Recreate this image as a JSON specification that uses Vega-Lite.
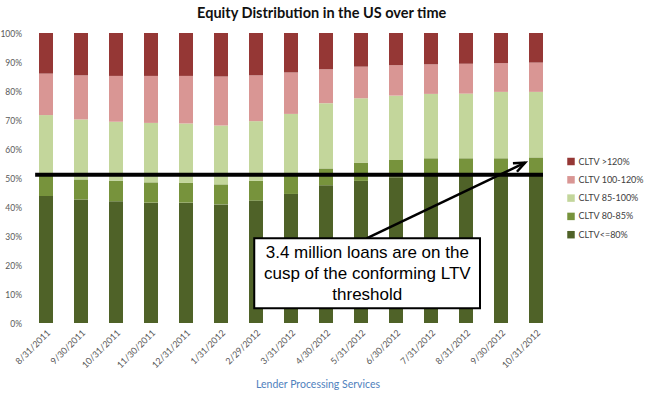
{
  "$schema": "https://vega.github.io/schema/vega-lite/v6.json",
  "width": 525,
  "height": 290,
  "autosize": "none",
  "padding": {"left": 28.5, "top": 33, "right": 96.5, "bottom": 70},
  "config": {"view": {"stroke": null}, "font": "Lato"},
  "title": {"text": "Equity Distribution in the US over time", "font": "Lato", "fontSize": 14.5, "fontWeight": "bold", "color": "#111111", "anchor": "middle", "frame": "group", "dx": 30.7, "baseline": "alphabetic", "offset": -3.5},
  "datasets": {
    "ltv": [
      {"date": "8/31/2011", "band": "CLTV<=80%", "lo": 0, "pct": 43.8},
      {"date": "8/31/2011", "band": "CLTV 80-85%", "lo": 80, "pct": 7.2},
      {"date": "8/31/2011", "band": "CLTV 85-100%", "lo": 85, "pct": 20.7},
      {"date": "8/31/2011", "band": "CLTV 100-120%", "lo": 100, "pct": 14.3},
      {"date": "8/31/2011", "band": "CLTV >120%", "lo": 120, "pct": 14.0},
      {"date": "9/30/2011", "band": "CLTV<=80%", "lo": 0, "pct": 42.6},
      {"date": "9/30/2011", "band": "CLTV 80-85%", "lo": 80, "pct": 6.9},
      {"date": "9/30/2011", "band": "CLTV 85-100%", "lo": 85, "pct": 20.7},
      {"date": "9/30/2011", "band": "CLTV 100-120%", "lo": 100, "pct": 15.2},
      {"date": "9/30/2011", "band": "CLTV >120%", "lo": 120, "pct": 14.6},
      {"date": "10/31/2011", "band": "CLTV<=80%", "lo": 0, "pct": 42.0},
      {"date": "10/31/2011", "band": "CLTV 80-85%", "lo": 80, "pct": 7.1},
      {"date": "10/31/2011", "band": "CLTV 85-100%", "lo": 85, "pct": 20.3},
      {"date": "10/31/2011", "band": "CLTV 100-120%", "lo": 100, "pct": 15.8},
      {"date": "10/31/2011", "band": "CLTV >120%", "lo": 120, "pct": 14.8},
      {"date": "11/30/2011", "band": "CLTV<=80%", "lo": 0, "pct": 41.5},
      {"date": "11/30/2011", "band": "CLTV 80-85%", "lo": 80, "pct": 7.0},
      {"date": "11/30/2011", "band": "CLTV 85-100%", "lo": 85, "pct": 20.5},
      {"date": "11/30/2011", "band": "CLTV 100-120%", "lo": 100, "pct": 16.2},
      {"date": "11/30/2011", "band": "CLTV >120%", "lo": 120, "pct": 14.8},
      {"date": "12/31/2011", "band": "CLTV<=80%", "lo": 0, "pct": 41.5},
      {"date": "12/31/2011", "band": "CLTV 80-85%", "lo": 80, "pct": 6.8},
      {"date": "12/31/2011", "band": "CLTV 85-100%", "lo": 85, "pct": 20.5},
      {"date": "12/31/2011", "band": "CLTV 100-120%", "lo": 100, "pct": 16.4},
      {"date": "12/31/2011", "band": "CLTV >120%", "lo": 120, "pct": 14.8},
      {"date": "1/31/2012", "band": "CLTV<=80%", "lo": 0, "pct": 40.9},
      {"date": "1/31/2012", "band": "CLTV 80-85%", "lo": 80, "pct": 6.9},
      {"date": "1/31/2012", "band": "CLTV 85-100%", "lo": 85, "pct": 20.3},
      {"date": "1/31/2012", "band": "CLTV 100-120%", "lo": 100, "pct": 16.9},
      {"date": "1/31/2012", "band": "CLTV >120%", "lo": 120, "pct": 15.0},
      {"date": "2/29/2012", "band": "CLTV<=80%", "lo": 0, "pct": 42.2},
      {"date": "2/29/2012", "band": "CLTV 80-85%", "lo": 80, "pct": 6.8},
      {"date": "2/29/2012", "band": "CLTV 85-100%", "lo": 85, "pct": 20.6},
      {"date": "2/29/2012", "band": "CLTV 100-120%", "lo": 100, "pct": 15.8},
      {"date": "2/29/2012", "band": "CLTV >120%", "lo": 120, "pct": 14.6},
      {"date": "3/31/2012", "band": "CLTV<=80%", "lo": 0, "pct": 44.5},
      {"date": "3/31/2012", "band": "CLTV 80-85%", "lo": 80, "pct": 7.0},
      {"date": "3/31/2012", "band": "CLTV 85-100%", "lo": 85, "pct": 20.6},
      {"date": "3/31/2012", "band": "CLTV 100-120%", "lo": 100, "pct": 14.3},
      {"date": "3/31/2012", "band": "CLTV >120%", "lo": 120, "pct": 13.6},
      {"date": "4/30/2012", "band": "CLTV<=80%", "lo": 0, "pct": 47.5},
      {"date": "4/30/2012", "band": "CLTV 80-85%", "lo": 80, "pct": 5.8},
      {"date": "4/30/2012", "band": "CLTV 85-100%", "lo": 85, "pct": 22.5},
      {"date": "4/30/2012", "band": "CLTV 100-120%", "lo": 100, "pct": 11.7},
      {"date": "4/30/2012", "band": "CLTV >120%", "lo": 120, "pct": 12.5},
      {"date": "5/31/2012", "band": "CLTV<=80%", "lo": 0, "pct": 49.0},
      {"date": "5/31/2012", "band": "CLTV 80-85%", "lo": 80, "pct": 6.3},
      {"date": "5/31/2012", "band": "CLTV 85-100%", "lo": 85, "pct": 22.2},
      {"date": "5/31/2012", "band": "CLTV 100-120%", "lo": 100, "pct": 10.9},
      {"date": "5/31/2012", "band": "CLTV >120%", "lo": 120, "pct": 11.6},
      {"date": "6/30/2012", "band": "CLTV<=80%", "lo": 0, "pct": 50.3},
      {"date": "6/30/2012", "band": "CLTV 80-85%", "lo": 80, "pct": 5.9},
      {"date": "6/30/2012", "band": "CLTV 85-100%", "lo": 85, "pct": 22.2},
      {"date": "6/30/2012", "band": "CLTV 100-120%", "lo": 100, "pct": 10.5},
      {"date": "6/30/2012", "band": "CLTV >120%", "lo": 120, "pct": 11.1},
      {"date": "7/31/2012", "band": "CLTV<=80%", "lo": 0, "pct": 50.8},
      {"date": "7/31/2012", "band": "CLTV 80-85%", "lo": 80, "pct": 6.0},
      {"date": "7/31/2012", "band": "CLTV 85-100%", "lo": 85, "pct": 22.2},
      {"date": "7/31/2012", "band": "CLTV 100-120%", "lo": 100, "pct": 10.2},
      {"date": "7/31/2012", "band": "CLTV >120%", "lo": 120, "pct": 10.8},
      {"date": "8/31/2012", "band": "CLTV<=80%", "lo": 0, "pct": 51.0},
      {"date": "8/31/2012", "band": "CLTV 80-85%", "lo": 80, "pct": 5.8},
      {"date": "8/31/2012", "band": "CLTV 85-100%", "lo": 85, "pct": 22.3},
      {"date": "8/31/2012", "band": "CLTV 100-120%", "lo": 100, "pct": 10.3},
      {"date": "8/31/2012", "band": "CLTV >120%", "lo": 120, "pct": 10.6},
      {"date": "9/30/2012", "band": "CLTV<=80%", "lo": 0, "pct": 51.0},
      {"date": "9/30/2012", "band": "CLTV 80-85%", "lo": 80, "pct": 5.8},
      {"date": "9/30/2012", "band": "CLTV 85-100%", "lo": 85, "pct": 22.9},
      {"date": "9/30/2012", "band": "CLTV 100-120%", "lo": 100, "pct": 9.9},
      {"date": "9/30/2012", "band": "CLTV >120%", "lo": 120, "pct": 10.4},
      {"date": "10/31/2012", "band": "CLTV<=80%", "lo": 0, "pct": 51.2},
      {"date": "10/31/2012", "band": "CLTV 80-85%", "lo": 80, "pct": 5.9},
      {"date": "10/31/2012", "band": "CLTV 85-100%", "lo": 85, "pct": 22.6},
      {"date": "10/31/2012", "band": "CLTV 100-120%", "lo": 100, "pct": 10.1},
      {"date": "10/31/2012", "band": "CLTV >120%", "lo": 120, "pct": 10.2}
    ]
  },
  "layer": [
    {
      "data": {"name": "ltv"},
      "mark": {"type": "bar"},
      "encoding": {
        "x": {"field": "date", "type": "ordinal", "sort": null,
          "scale": {"paddingInner": 0.6, "paddingOuter": 0.3},
          "axis": {"title": "Lender  Processing  Services", "titleColor": "#4F81BD", "titleFont": "Lato", "titleFontSize": 10.5, "titleFontWeight": "normal", "titlePadding": 10, "titleX": 289,
            "labelAngle": -45, "labelFontSize": 9, "labelColor": "#595959", "labelPadding": 5, "domain": false, "ticks": false}},
        "y": {"field": "pct", "type": "quantitative", "stack": "zero",
          "scale": {"domain": [0, 100], "nice": false},
          "axis": {"title": null, "values": [0, 10, 20, 30, 40, 50, 60, 70, 80, 90, 100], "labelOverlap": false, "labelExpr": "datum.value + '%'", "grid": false, "domain": false, "ticks": false, "labelFontSize": 8.5, "labelColor": "#595959", "labelPadding": 7}},
        "color": {"field": "band", "type": "nominal",
          "scale": {"domain": ["CLTV >120%", "CLTV 100-120%", "CLTV 85-100%", "CLTV 80-85%", "CLTV<=80%"], "range": ["#953735", "#D99694", "#C3D69B", "#77933C", "#4F6228"]},
          "legend": {"title": null, "orient": "none", "legendX": 538, "legendY": 124, "padding": 0, "symbolType": "square", "symbolSize": 56, "symbolStrokeWidth": 0, "labelFontSize": 9, "labelColor": "#404040", "labelOffset": 3, "rowPadding": 8.3, "labelLimit": 100}},
        "order": {"field": "lo", "type": "quantitative", "sort": "ascending"}
      }
    },
    {
      "data": {"values": [{}]},
      "mark": {"type": "rule", "color": "black", "strokeWidth": 4},
      "encoding": {
        "x": {"datum": 0.19, "type": "quantitative", "scale": {"domain": [0, 15], "nice": false, "zero": false}, "axis": null},
        "x2": {"datum": 14.7},
        "y": {"datum": 51.1, "type": "quantitative", "scale": {"domain": [0, 100], "nice": false}, "axis": null}
      }
    },
    {
      "data": {"values": [{}]},
      "mark": {"type": "rule", "color": "black", "strokeWidth": 2.5},
      "encoding": {
        "x": {"datum": 9.66, "type": "quantitative", "scale": {"domain": [0, 15], "nice": false, "zero": false}, "axis": null},
        "x2": {"datum": 14.19},
        "y": {"datum": 29.2, "type": "quantitative", "scale": {"domain": [0, 100], "nice": false}, "axis": null},
        "y2": {"datum": 55.3}
      }
    },
    {
      "data": {"values": [{}]},
      "mark": {"type": "point", "shape": "M -0.383 0.924 L 0 0 L 0.383 0.924", "filled": false, "stroke": "black", "strokeWidth": 2.5, "opacity": 1, "size": 600, "angle": 64.5},
      "encoding": {
        "x": {"datum": 14.19, "type": "quantitative", "scale": {"domain": [0, 15], "nice": false, "zero": false}, "axis": null},
        "y": {"datum": 55.3, "type": "quantitative", "scale": {"domain": [0, 100], "nice": false}, "axis": null}
      }
    },
    {
      "data": {"values": [{}]},
      "mark": {"type": "rect", "fill": "white", "stroke": "black", "strokeWidth": 2},
      "encoding": {
        "x": {"datum": 6.45, "type": "quantitative", "scale": {"domain": [0, 15], "nice": false, "zero": false}, "axis": null},
        "x2": {"datum": 12.9},
        "y": {"datum": 29.2, "type": "quantitative", "scale": {"domain": [0, 100], "nice": false}, "axis": null},
        "y2": {"datum": 5.1}
      }
    },
    {
      "data": {"values": [{}]},
      "mark": {"type": "text", "text": ["3.4 million loans are on the", "cusp of the conforming LTV", "threshold"], "font": "Liberation Sans", "fontSize": 17, "lineHeight": 21, "align": "center", "baseline": "middle", "color": "black"},
      "encoding": {
        "x": {"datum": 9.68, "type": "quantitative", "scale": {"domain": [0, 15], "nice": false, "zero": false}, "axis": null},
        "y": {"datum": 24.1, "type": "quantitative", "scale": {"domain": [0, 100], "nice": false}, "axis": null}
      }
    }
  ],
  "resolve": {"scale": {"x": "independent", "y": "independent"}}
}
